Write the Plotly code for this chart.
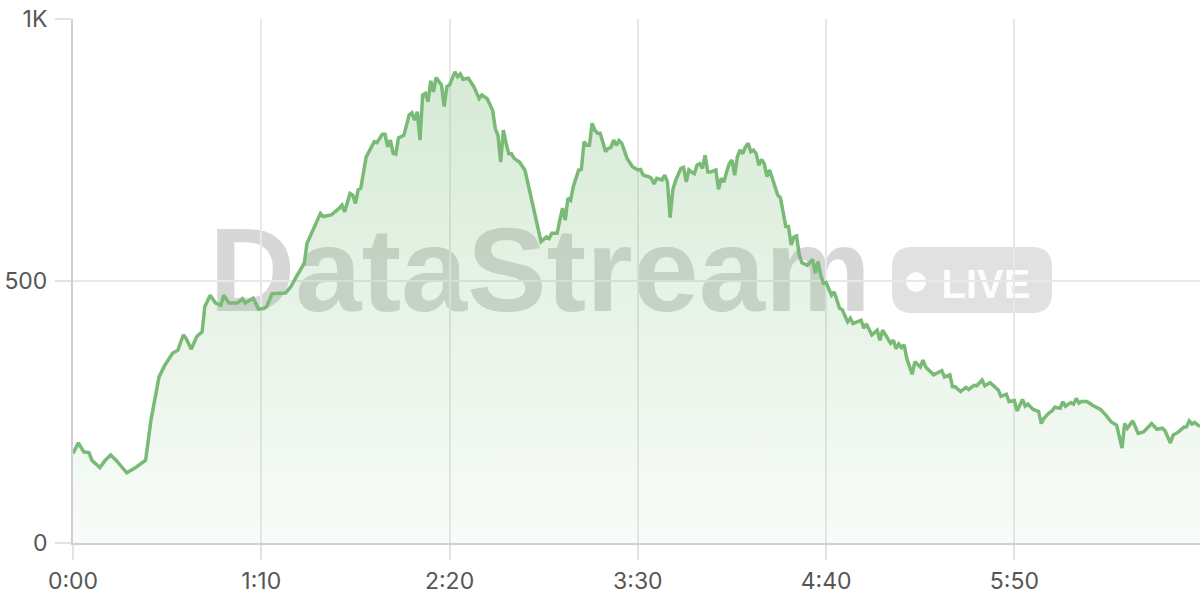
import plotly.graph_objects as go

# elapsed seconds and live viewer counts
seconds = [0, 2, 4, 6, 7, 10, 12, 14, 16, 20, 23, 26, 27, 29, 32, 34, 37, 39, 41, 42, 44, 46, 48, 49,
           51, 53, 55, 56, 58, 61, 63, 64, 67, 69, 71, 72, 74, 79, 81, 83, 86, 87, 90, 92, 93, 96, 99,
           100, 101, 103, 104, 105, 106, 107, 109, 112, 113, 115, 116, 117, 118, 119, 120, 121, 123,
           125, 126, 127, 128, 129, 130, 131, 132, 133, 134, 135, 137, 138, 139, 140, 142, 143, 144,
           145, 147, 148, 149, 151, 152, 154, 156, 157, 158, 159, 160, 161, 162, 163, 164, 166, 168,
           170, 172, 173, 174, 176, 177, 178, 180, 181, 182, 183, 184, 185, 186, 187, 188, 189, 190,
           191, 192, 193, 194, 195, 196, 198, 199, 200, 201, 202, 203, 204, 205, 206, 208, 210, 211,
           212, 214, 215, 216, 217, 219, 220, 221, 222, 223, 224, 226, 227, 228, 229, 230, 231, 232,
           233, 234, 235, 236, 237, 239, 240, 241, 242, 243, 244, 245, 246, 247, 248, 249, 250, 251,
           252, 253, 254, 255, 256, 257, 258, 259, 260, 262, 263, 264, 265, 266, 267, 268, 269, 270,
           271, 273, 275, 276, 277, 278, 279, 280, 282, 283, 285, 286, 288, 289, 290, 293, 294, 295,
           297, 299, 300, 301, 302, 304, 305, 306, 307, 308, 309, 310, 312, 313, 315, 316, 317, 319,
           320, 323, 324, 326, 327, 328, 330, 332, 333, 335, 336, 338, 339, 341, 343, 344, 345, 347,
           348, 350, 351, 352, 353, 354, 355, 357, 359, 360, 361, 363, 364, 365, 367, 368, 369, 371,
           372, 373, 374, 375, 377, 379, 382, 384, 386, 388, 390, 391, 392, 394, 396, 398, 399, 401,
           403, 405, 406, 408, 409, 411, 413, 414, 415, 416, 417, 419]
viewers = [171, 191, 174, 172, 158, 144, 158, 168, 158, 134, 143, 153, 158, 235, 317, 338, 362, 368, 397, 391,
           370, 394, 403, 451, 473, 458, 454, 473, 458, 458, 466, 458, 467, 446, 448, 451, 476, 477, 489,
           508, 534, 572, 604, 629, 623, 626, 639, 645, 632, 667, 664, 648, 674, 677, 737, 766, 764, 780,
           780, 756, 769, 744, 742, 773, 778, 817, 821, 807, 823, 769, 855, 858, 842, 882, 861, 888, 874,
           833, 871, 874, 899, 890, 895, 885, 887, 880, 871, 848, 855, 848, 826, 791, 778, 727, 788, 763,
           743, 743, 734, 727, 712, 667, 623, 600, 575, 584, 581, 591, 591, 616, 639, 616, 658, 654, 680,
           696, 712, 713, 766, 759, 759, 801, 788, 782, 782, 747, 753, 755, 769, 759, 768, 763, 750, 734,
           718, 712, 713, 702, 699, 696, 685, 696, 693, 702, 689, 621, 674, 691, 715, 717, 689, 712, 708,
           705, 721, 724, 715, 740, 708, 708, 712, 675, 696, 689, 708, 724, 731, 702, 737, 750, 743, 756,
           763, 747, 750, 743, 721, 732, 724, 699, 712, 696, 664, 659, 629, 604, 604, 569, 584, 586, 550,
           535, 530, 541, 515, 537, 511, 496, 497, 473, 479, 448, 445, 422, 429, 419, 425, 410, 418, 397,
           406, 387, 406, 397, 381, 387, 371, 380, 373, 378, 352, 322, 346, 336, 349, 336, 327, 321, 329,
           317, 321, 298, 298, 289, 297, 293, 301, 300, 311, 300, 306, 298, 292, 280, 284, 270, 272, 252,
           263, 274, 261, 265, 255, 251, 228, 238, 249, 252, 259, 257, 270, 261, 268, 265, 276, 267, 270,
           270, 263, 255, 244, 231, 225, 181, 228, 219, 233, 209, 212, 217, 228, 217, 219, 214, 191, 206,
           212, 221, 222, 233, 227, 230, 222]

x_tick_vals = [0, 70, 140, 210, 280, 350]
x_tick_text = ["0:00", "1:10", "2:20", "3:30", "4:40", "5:50"]
y_tick_vals = [0, 500, 1000]
y_tick_text = ["0", "500", "1K"]

LINE = "rgb(120,186,118)"
W, H = 1200, 600
ML, MR, MT, MB = 73, 0, 19, 57
PW, PH = W - ML - MR, H - MT - MB


def px(x):
    return (x - ML) / PW


def py(y):
    return (H - MB - y) / PH


fig = go.Figure()
fig.add_trace(go.Scatter(
    x=seconds, y=viewers, mode="lines",
    line=dict(color=LINE, width=3.5),
    fill="tozeroy",
    fillgradient=dict(type="vertical", start=0, stop=900,
                      colorscale=[[0, "rgba(120,186,118,0.05)"], [1, "rgba(120,186,118,0.30)"]]),
    hoverinfo="skip", showlegend=False,
))

# watermark: rounded LIVE badge
bx0, bx1, by0, by1, r = 892, 1052, 247, 313, 20
rx, ry = r / PW, r / PH
X0, X1, Y0, Y1 = px(bx0), px(bx1), py(by1), py(by0)
badge = (f"M {X0+rx},{Y0} L {X1-rx},{Y0} Q {X1},{Y0} {X1},{Y0+ry} L {X1},{Y1-ry} "
         f"Q {X1},{Y1} {X1-rx},{Y1} L {X0+rx},{Y1} Q {X0},{Y1} {X0},{Y1-ry} L {X0},{Y0+ry} "
         f"Q {X0},{Y0} {X0+rx},{Y0} Z")

shapes = [
    dict(type="rect", xref="paper", yref="paper", layer="below",
         x0=px(190), x1=px(890), y0=py(318), y1=py(198),
         line=dict(width=0), fillcolor="rgba(0,0,0,0)",
         label=dict(text="DataStream", textposition="middle center",
                    font=dict(family="Liberation Sans", size=119, weight=700,
                              color="rgba(95,95,95,0.25)"))),
    dict(type="path", xref="paper", yref="paper", layer="below", path=badge,
         line=dict(width=0), fillcolor="rgba(95,95,95,0.19)"),
    dict(type="circle", xref="paper", yref="paper", layer="below",
         x0=px(906), x1=px(926), y0=py(292), y1=py(272),
         line=dict(width=0), fillcolor="rgba(255,255,255,0.95)"),
    dict(type="rect", xref="paper", yref="paper", layer="below",
         x0=px(935), x1=px(1037), y0=py(305), y1=py(255),
         line=dict(width=0), fillcolor="rgba(0,0,0,0)",
         label=dict(text="LIVE", textposition="middle center",
                    font=dict(family="Liberation Sans", size=40, weight=700,
                              color="rgba(255,255,255,0.95)"))),
]

tick_font = dict(family="Inter", size=23, color="#565656")
fig.update_layout(
    width=W, height=H,
    margin=dict(l=ML, r=MR, t=MT, b=MB, autoexpand=False),
    paper_bgcolor="white", plot_bgcolor="white",
    shapes=shapes,
    xaxis=dict(range=[0, 419], tickvals=x_tick_vals, ticktext=x_tick_text,
               showgrid=True, gridcolor="#e8e8e8", gridwidth=1.5,
               ticks="outside", ticklen=15, tickcolor="#e3e3e3", tickwidth=1.5,
               showline=True, linecolor="#d0d0d0", linewidth=2,
               zeroline=False, tickfont=tick_font, ticklabelstandoff=1,
               fixedrange=True, automargin=False),
    yaxis=dict(range=[0, 1000], tickvals=y_tick_vals, ticktext=y_tick_text,
               showgrid=True, gridcolor="#e8e8e8", gridwidth=1.5,
               ticks="outside", ticklen=16, tickcolor="#e3e3e3", tickwidth=1.5,
               showline=True, linecolor="#d0d0d0", linewidth=2,
               zeroline=False, tickfont=tick_font, ticklabelstandoff=3, fixedrange=True,
               automargin=False),
)

fig.write_html(
    "out.html",
    config={"displayModeBar": False},
    post_script="document.body.style.margin='0';document.body.style.overflow='hidden';",
)
